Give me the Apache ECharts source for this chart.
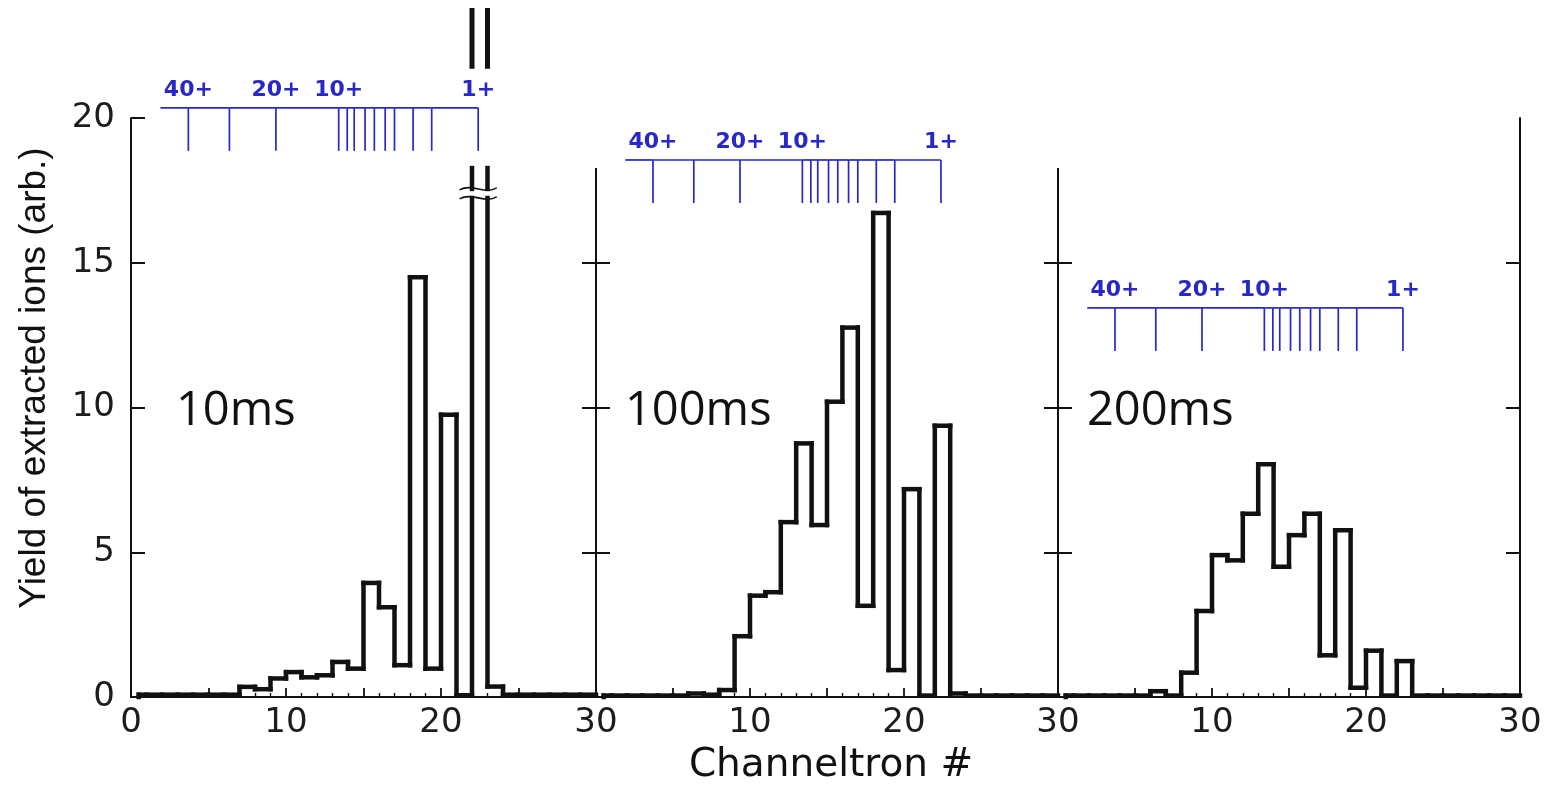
<!DOCTYPE html>
<html>
<head>
<meta charset="utf-8">
<script src="https://cdn.jsdelivr.net/npm/echarts@6/dist/echarts.min.js"></script>
<style>
  html, body { margin: 0; padding: 0; background: #fff; }
  #chart { width: 1547px; height: 787px; }
</style>
</head>
<body>
<div id="chart"></div>
<script>
// Channel number = left edge of each one-channel bin
const channels = [0,1,2,3,4,5,6,7,8,9,10,11,12,13,14,15,16,17,18,19,20,21,22,23,24,25,26,27,28,29];

// Yield of extracted ions per channeltron, for each storage time
const yield10ms  = [0.08,0.08,0.08,0.08,0.08,0.08,0.08,0.35,0.27,0.64,0.86,0.68,0.75,1.21,0.98,3.94,3.10,1.10,14.5,0.98,9.75,0.06,23.8,0.36,0.08,0.08,0.08,0.08,0.08,0.08];
const yield100ms = [0.05,0.05,0.05,0.05,0.05,0.05,0.12,0.08,0.24,2.10,3.50,3.62,6.04,8.76,5.94,10.2,12.76,3.15,16.72,0.93,7.18,0.05,9.37,0.12,0.05,0.05,0.05,0.05,0.05,0.05];
const yield200ms = [0.05,0.05,0.05,0.05,0.05,0.05,0.20,0.05,0.84,2.97,4.90,4.72,6.33,8.04,4.50,5.59,6.33,1.44,5.76,0.32,1.60,0.05,1.24,0.05,0.05,0.05,0.05,0.05,0.05,0.05];
const panelNames = ['10ms', '100ms', '200ms'];

// Axis ticks
const xTickValues = [0, 10, 20, 30];
const yTickValues = [0, 5, 10, 15, 20];

// Expected channel of each charge state
const chargeStates = ['40+','30+','20+','10+','9+','8+','7+','6+','5+','4+','3+','2+','1+'];
const chargeChannel = [3.7, 6.35, 9.35, 13.4, 13.95, 14.4, 15.1, 15.7, 16.4, 17.0, 18.2, 19.4, 22.4];
const labelledStates = ['40+','20+','10+','1+'];
const scaleStartChannel = 1.9;
const scaleLevel = [20.35, 18.55, 13.44];

// ---- layout & style ----
const X_MAX = 30, Y_MAX = 20, X_START = 0.5;
const gridLeft = [131, 596, 1058];
const gridWidth = [465, 462, 462];
const GRID_TOP = 118, GRID_H = 579;
const FRAME_TOP = 18.27;                 // inner frame lines stop below the charge scale
const BREAK = { low: 17.24, high: 17.55, top: 18.27, stubFrom: 21.7, waveFrom: -0.8, waveTo: 0.6 };
const INK = '#111';
const BLUE = '#2828c8';
const HIST = { stroke: INK, lineWidth: 4.5, lineCap: 'square', fill: null };
const STUB = { stroke: INK, lineWidth: 5, lineCap: 'butt', fill: null };
const WAVE = { stroke: INK, lineWidth: 1.6, fill: null };
const SCALE_LINE = { stroke: BLUE, lineWidth: 1.7, fill: null };
const SCALE_TICK_PX = 43, SCALE_LABEL_PX = 18;
const TICK_FONT = 'DejaVu Sans';
const panelLabelX = [176, 625, 1087];

function histogramSeries(panel, values) {
  const rows = channels.map((c, i) => [c, values[i], i ? values[i - 1] : 0]);
  return {
    type: 'custom', xAxisIndex: panel, yAxisIndex: panel * 2, silent: true,
    dimensions: ['channel', 'yield', 'previous'],
    encode: { x: 0, y: 1 },
    data: rows,
    renderItem(params, api) {
      const c = api.value(0), v = api.value(1), prev = api.value(2);
      const x0 = Math.max(c, X_START), x1 = Math.min(c + 1, X_MAX);
      const children = [];
      const seg = (xa, ya, xb, yb, style) => {
        const p = api.coord([xa, ya]), q = api.coord([xb, yb]);
        children.push({ type: 'line', shape: { x1: p[0], y1: p[1], x2: q[0], y2: q[1] }, style });
      };
      const wave = (xa, xb, y) => {
        const p = api.coord([xa, y]), q = api.coord([xb, y]);
        const w = q[0] - p[0];
        children.push({ type: 'bezierCurve', shape: {
          x1: p[0], y1: p[1] + 1, x2: q[0], y2: q[1] - 1,
          cpx1: p[0] + w / 3, cpy1: p[1] - 6, cpx2: p[0] + 2 * w / 3, cpy2: p[1] + 6 }, style: WAVE });
      };
      // edge rising/falling from the previous bin
      const lo = Math.min(prev, v), hi = Math.max(prev, v);
      if (hi <= Y_MAX) {
        seg(x0, lo, x0, hi, HIST);
      } else {
        seg(x0, lo, x0, BREAK.low, HIST);
        seg(x0, BREAK.high, x0, BREAK.top, HIST);
      }
      // top of the bin
      if (v <= Y_MAX) {
        seg(x0, v, x1, v, HIST);
      } else {
        // off-scale bin: broken bar, its top continues above the frame
        seg(x0, BREAK.stubFrom, x0, v, STUB);
        seg(x1, BREAK.stubFrom, x1, v, STUB);
        wave(x0 + BREAK.waveFrom, x1 + BREAK.waveTo, BREAK.low);
        wave(x0 + BREAK.waveFrom, x1 + BREAK.waveTo, BREAK.high);
      }
      return { type: 'group', children };
    }
  };
}

function chargeScaleSeries(panel) {
  const rows = chargeChannel.map((ch, i) => [ch, i ? chargeChannel[i - 1] : scaleStartChannel]);
  const level = scaleLevel[panel];
  return {
    type: 'custom', xAxisIndex: panel, yAxisIndex: panel * 2, silent: true,
    encode: { x: 0 },
    data: rows,
    renderItem(params, api) {
      const p = api.coord([api.value(0), level]);
      const from = api.coord([api.value(1), level]);
      const children = [
        { type: 'line', shape: { x1: from[0], y1: p[1], x2: p[0], y2: p[1] }, style: SCALE_LINE },
        { type: 'line', shape: { x1: p[0], y1: p[1], x2: p[0], y2: p[1] + SCALE_TICK_PX }, style: SCALE_LINE }
      ];
      const name = chargeStates[params.dataIndex];
      if (labelledStates.includes(name)) {
        children.push({ type: 'text', x: p[0], y: p[1] - SCALE_LABEL_PX, style: {
          text: name, fill: BLUE, font: 'bold 22px "DejaVu Sans"',
          align: 'center', verticalAlign: 'middle', textAlign: 'center', textVerticalAlign: 'middle' } });
      }
      return { type: 'group', children };
    }
  };
}

function frameSeries(panel) {
  return {
    type: 'custom', xAxisIndex: panel, yAxisIndex: panel * 2, silent: true,
    encode: { x: 0, y: 1 },
    data: [[0, FRAME_TOP]],
    renderItem(params, api) {
      const p = api.coord([api.value(0), 0]), q = api.coord([api.value(0), api.value(1)]);
      return { type: 'line', shape: { x1: p[0], y1: p[1] + 1, x2: q[0], y2: q[1] }, style: { stroke: INK, lineWidth: 2 } };
    }
  };
}

const grids = gridLeft.map((l, i) => ({ left: l, width: gridWidth[i], top: GRID_TOP, height: GRID_H }));

const xAxes = gridLeft.map((_, i) => ({
  type: 'value', gridIndex: i, min: 0, max: X_MAX, interval: 5,
  axisLine: { show: true, onZero: false, lineStyle: { color: INK, width: 2 } },
  axisTick: { show: true, inside: true, length: 9, lineStyle: { color: INK, width: 1.8 } },
  minorTick: { show: true, splitNumber: 5, length: 4, lineStyle: { color: INK, width: 1.4 } },
  splitLine: { show: false },
  axisLabel: {
    margin: 9, color: '#1c1c1c', fontFamily: TICK_FONT, fontSize: 34,
    formatter: v => (xTickValues.includes(v) && !(i > 0 && v === 0)) ? String(v) : ''
  }
}));

const tickStyle = { color: INK, width: 2 };
const yAxes = [];
gridLeft.forEach((_, i) => {
  yAxes.push({
    type: 'value', gridIndex: i, position: 'left', min: 0, max: Y_MAX, interval: 5,
    axisLine: { show: i === 0, onZero: false, lineStyle: { color: INK, width: 2 } },
    axisTick: i === 0
      ? { show: true, inside: true, length: 14, lineStyle: tickStyle }
      : { show: true, inside: true, length: 14, lineStyle: tickStyle, customValues: [5, 10, 15] },
    splitLine: { show: false },
    axisLabel: i === 0
      ? { show: true, margin: 16, color: '#1c1c1c', fontFamily: TICK_FONT, fontSize: 34,
          formatter: v => yTickValues.includes(v) ? String(v) : '' }
      : { show: false }
  });
  yAxes.push({
    type: 'value', gridIndex: i, position: 'right', min: 0, max: Y_MAX, interval: 5,
    axisLine: { show: i === 2, onZero: false, lineStyle: { color: INK, width: 2 } },
    axisTick: { show: true, inside: true, length: 14, lineStyle: tickStyle, customValues: [5, 10, 15] },
    splitLine: { show: false },
    axisLabel: { show: false }
  });
});

const series = [
  frameSeries(1), frameSeries(2),
  histogramSeries(0, yield10ms), histogramSeries(1, yield100ms), histogramSeries(2, yield200ms),
  chargeScaleSeries(0), chargeScaleSeries(1), chargeScaleSeries(2)
];

const textStyle = (text, font, align) => ({
  text, font, fill: '#111',
  align, verticalAlign: 'middle', textAlign: align, textVerticalAlign: 'middle'
});

const graphic = [
  { type: 'text', x: 35, y: 378, rotation: Math.PI / 2,
    style: textStyle('Yield of extracted ions (arb.)', '37px "Liberation Sans"', 'center') },
  { type: 'text', x: 831, y: 766,
    style: textStyle('Channeltron #', '39px "DejaVu Sans"', 'center') }
].concat(panelNames.map((name, i) => ({
  type: 'text', x: panelLabelX[i], y: 412,
  style: textStyle(name, '47px "Open Sans"', 'left')
})));

const chart = echarts.init(document.getElementById('chart'));
chart.setOption({
  backgroundColor: '#fff',
  animation: false,
  grid: grids,
  xAxis: xAxes,
  yAxis: yAxes,
  series,
  graphic
});
</script>
</body>
</html>
